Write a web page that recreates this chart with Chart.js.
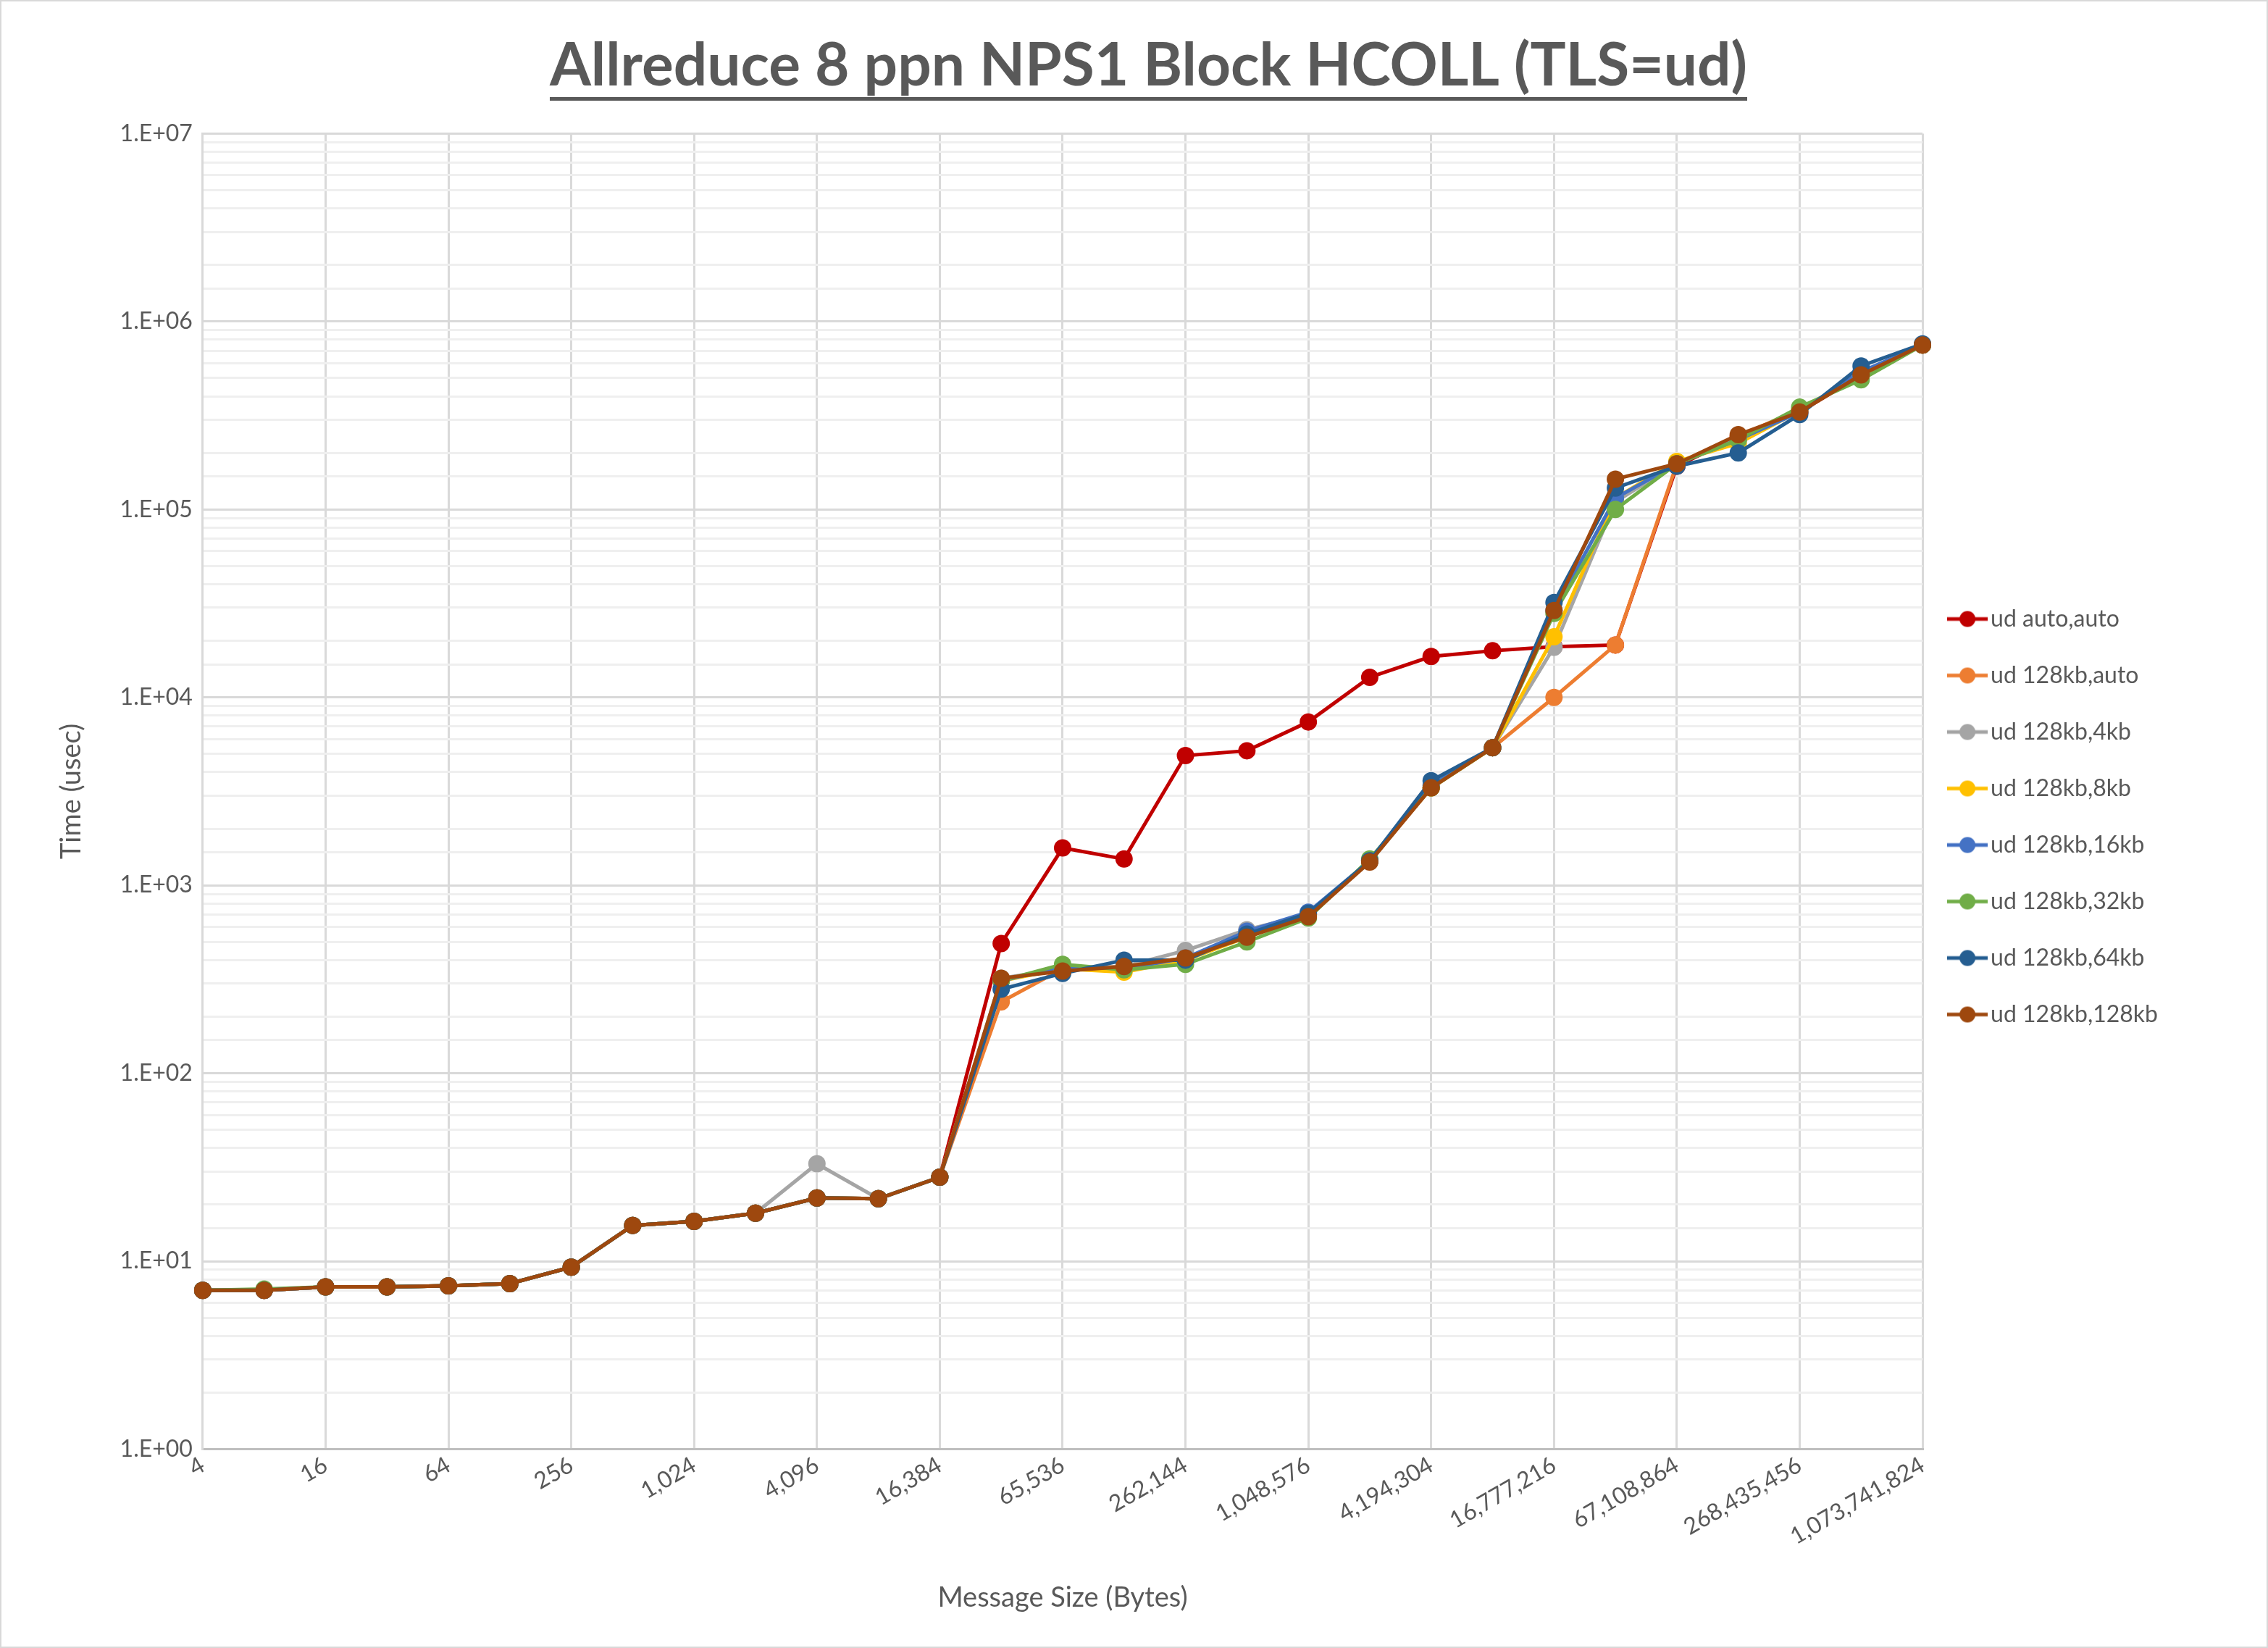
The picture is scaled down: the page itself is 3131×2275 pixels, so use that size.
<!DOCTYPE html>
<html>
<head>
<meta charset="utf-8">
<script src="https://cdn.jsdelivr.net/npm/chart.js@4/dist/chart.umd.min.js"></script>
<style>
  html, body { margin: 0; padding: 0; background: #fff; }
  #wrap { width: 3131px; height: 2275px; box-sizing: border-box; border: 2px solid #d9d9d9; }
</style>
</head>
<body>
<div id="wrap"><canvas id="myChart" width="3127" height="2271"></canvas></div>
<script>
let sizes = ['4', '8', '16', '32', '64', '128', '256', '512', '1,024', '2,048', '4,096', '8,192',
    '16,384', '32,768', '65,536', '131,072', '262,144', '524,288', '1,048,576', '2,097,152',
    '4,194,304', '8,388,608', '16,777,216', '33,554,432', '67,108,864', '134,217,728',
    '268,435,456', '536,870,912', '1,073,741,824'];

let seriesNames = ['ud auto,auto', 'ud 128kb,auto', 'ud 128kb,4kb', 'ud 128kb,8kb',
    'ud 128kb,16kb', 'ud 128kb,32kb', 'ud 128kb,64kb', 'ud 128kb,128kb'];

let seriesColors = ['#c00000', '#ed7d31', '#a5a5a5', '#ffc000', '#4472c4', '#70ad47', '#255e91', '#9e480e'];

let udAutoAuto = [7.0, 7.0, 7.3, 7.3, 7.4, 7.6, 9.3, 15.5, 16.3, 18, 21.7, 21.5, 28,
    490, 1580, 1380, 4900, 5200, 7400, 12800, 16500, 17700, 18600, 19000, 170000, 245000, 330000, 520000, 750000];
let ud128Auto = [7.0, 7.0, 7.3, 7.3, 7.4, 7.6, 9.3, 15.5, 16.3, 18, 21.7, 21.5, 28,
    240, 360, 370, 410, 540, 700, 1350, 3300, 5400, 10000, 19000, 175000, 245000, 340000, 520000, 750000];
let ud128_4 = [7.0, 7.0, 7.3, 7.3, 7.4, 7.6, 9.3, 15.5, 16.3, 18, 33, 21.5, 28,
    320, 360, 370, 450, 580, 700, 1350, 3300, 5400, 18500, 110000, 175000, 240000, 335000, 520000, 750000];
let ud128_8 = [7.0, 7.0, 7.3, 7.3, 7.4, 7.6, 9.3, 15.5, 16.3, 18, 21.7, 21.5, 28,
    310, 360, 345, 400, 530, 690, 1350, 3300, 5400, 21000, 115000, 180000, 225000, 335000, 520000, 750000];
let ud128_16 = [7.0, 7.0, 7.3, 7.3, 7.4, 7.6, 9.3, 15.5, 16.3, 18, 21.7, 21.5, 28,
    310, 370, 360, 410, 570, 720, 1350, 3400, 5400, 29000, 115000, 175000, 235000, 330000, 540000, 750000];
let ud128_32 = [7.0, 7.1, 7.3, 7.3, 7.4, 7.6, 9.3, 15.5, 16.3, 18, 21.7, 21.5, 28,
    310, 380, 355, 380, 500, 670, 1380, 3300, 5400, 28000, 100000, 175000, 235000, 350000, 490000, 750000];
let ud128_64 = [7.0, 7.0, 7.3, 7.3, 7.4, 7.6, 9.3, 15.5, 16.3, 18, 21.7, 21.5, 28,
    280, 340, 400, 400, 550, 710, 1350, 3600, 5400, 32000, 130000, 170000, 200000, 320000, 580000, 760000];
let ud128_128 = [7.0, 7.0, 7.3, 7.3, 7.4, 7.6, 9.3, 15.5, 16.3, 18, 21.7, 21.5, 28,
    320, 350, 370, 410, 530, 680, 1330, 3300, 5400, 29000, 145000, 175000, 250000, 330000, 520000, 750000];

let seriesValues = [udAutoAuto, ud128Auto, ud128_4, ud128_8, ud128_16, ud128_32, ud128_64, ud128_128];

let textColor = '#595959';
let fontName = 'Lato, "Open Sans", sans-serif';

function legendMarker(color) {
    let c = document.createElement('canvas');
    c.width = 56;
    c.height = 24;
    let g = c.getContext('2d');
    g.strokeStyle = color;
    g.lineWidth = 5;
    g.beginPath();
    g.moveTo(0, 12);
    g.lineTo(56, 12);
    g.stroke();
    g.fillStyle = color;
    g.beginPath();
    g.arc(28, 12, 11, 0, Math.PI * 2);
    g.fill();
    return c;
}

// underline under the title, plus extra room left of the legend
let chartExtras = {
    id: 'chartExtras',
    afterInit(chart) {
        let legend = chart.legend;
        let origFit = legend.fit;
        legend.fit = function () {
            origFit.call(this);
            this.width += 110;
        };
    },
    afterDraw(chart) {
        let t = chart.titleBlock;
        if (!t) return;
        let ctx = chart.ctx;
        let text = chart.options.plugins.title.text;
        ctx.save();
        ctx.font = 'bold 82px ' + fontName;
        let w = ctx.measureText(text).width;
        let cx = (t.left + t.right) / 2;
        let y = t.bottom - 48;
        ctx.strokeStyle = textColor;
        ctx.lineWidth = 5;
        ctx.beginPath();
        ctx.moveTo(cx - w / 2, y);
        ctx.lineTo(cx + w / 2, y);
        ctx.stroke();
        ctx.restore();
    }
};

let datasets = [];
for (let i = 0; i < seriesNames.length; i++) {
    datasets.push({
        label: seriesNames[i],
        data: seriesValues[i],
        borderColor: seriesColors[i],
        backgroundColor: seriesColors[i],
        borderWidth: 5,
        pointRadius: 12,
        pointHoverRadius: 12,
        pointBorderWidth: 0,
        order: seriesNames.length - i,
        tension: 0
    });
}

let ctx = document.getElementById('myChart').getContext('2d');
new Chart(ctx, {
    type: 'line',
    data: { labels: sizes, datasets: datasets },
    plugins: [chartExtras],
    options: {
        responsive: false,
        animation: false,
        layout: { padding: { left: 70, right: 30, top: 20, bottom: 40 } },
        plugins: {
            title: {
                display: true,
                text: 'Allreduce 8 ppn NPS1 Block HCOLL (TLS=ud)',
                color: textColor,
                font: { family: fontName, size: 82, weight: 'bold' },
                padding: { top: 20, bottom: 44 }
            },
            legend: {
                position: 'right',
                align: 'center',
                labels: {
                    color: textColor,
                    font: { family: fontName, size: 32 },
                    boxWidth: 56,
                    padding: 46,
                    usePointStyle: true,
                    sort: function (a, b) {
                        return a.datasetIndex - b.datasetIndex;
                    },
                    generateLabels(chart) {
                        let items = Chart.defaults.plugins.legend.labels.generateLabels(chart);
                        items.forEach(function (item) {
                            item.pointStyle = legendMarker(seriesColors[item.datasetIndex]);
                        });
                        return items;
                    }
                }
            },
            tooltip: { enabled: false }
        },
        scales: {
            x: {
                type: 'category',
                offset: false,
                title: {
                    display: true,
                    text: 'Message Size (Bytes)',
                    color: textColor,
                    font: { family: fontName, size: 38 },
                    padding: { top: 40 }
                },
                ticks: {
                    color: textColor,
                    font: { family: fontName, size: 32 },
                    autoSkip: false,
                    maxRotation: 30,
                    minRotation: 30,
                    callback: function (value, index) {
                        return index % 2 === 0 ? sizes[index] : '';
                    }
                },
                grid: {
                    color: function (c) {
                        return c.index % 2 === 0 ? '#d9d9d9' : 'rgba(0,0,0,0)';
                    },
                    lineWidth: 3,
                    tickLength: 0
                },
                border: { color: '#bfbfbf', width: 3 }
            },
            y: {
                type: 'logarithmic',
                min: 1,
                max: 10000000,
                title: {
                    display: true,
                    text: 'Time (usec)',
                    color: textColor,
                    font: { family: fontName, size: 38 },
                    padding: { bottom: 30 }
                },
                ticks: {
                    color: textColor,
                    font: { family: fontName, size: 32 },
                    autoSkip: false,
                    padding: 14,
                    callback: function (value) {
                        let p = Math.log10(value);
                        if (Math.abs(p - Math.round(p)) < 1e-9) {
                            return '1.E+' + String(Math.round(p)).padStart(2, '0');
                        }
                        return '';
                    }
                },
                grid: {
                    color: function (c) {
                        let p = Math.log10(c.tick.value);
                        return Math.abs(p - Math.round(p)) < 1e-9 ? '#d9d9d9' : '#efefef';
                    },
                    lineWidth: 3,
                    tickLength: 0
                },
                border: { color: '#d9d9d9', width: 3 }
            }
        }
    }
});
</script>
</body>
</html>
